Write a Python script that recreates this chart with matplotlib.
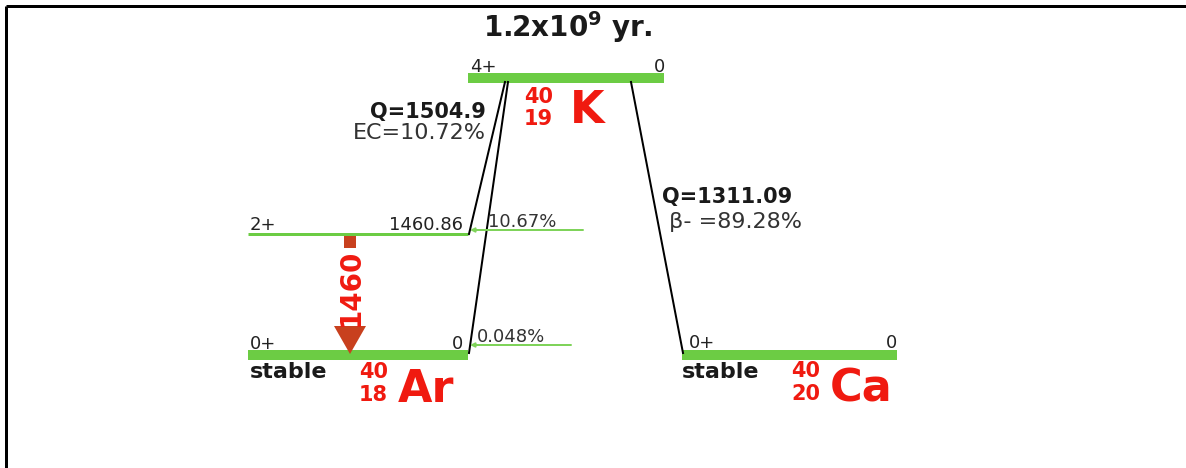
import matplotlib
matplotlib.use("Agg")
import matplotlib.pyplot as plt
from matplotlib.patches import FancyArrow

# ---------------- data ----------------
parent_symbol = "K"
parent_A, parent_Z = 40, 19
parent_spin = "4+"
parent_energy = "0"
half_life_mantissa = "1.2"
half_life_exp = "9"

ar_symbol, ar_A, ar_Z = "Ar", 40, 18
ar_spins = ["0+", "2+"]
ar_energies = [0.0, 1460.86]
ar_energy_labels = ["0", "1460.86"]
ec_branches = ["0.048%", "10.67%"]
q_ec = "1504.9"
ec_total = "10.72%"
gamma_energy = "1460"

ca_symbol, ca_A, ca_Z = "Ca", 40, 20
ca_spin = "0+"
ca_energy_label = "0"
q_beta = "1311.09"
beta_total = "89.28%"

# ---------------- style ----------------
GREEN = "#6ccc44"
GREEN_L = "#7fd35a"
RED = "#f01a10"
GAMMA = "#c8401e"
FONT = "DejaVu Sans"
plt.rcParams["font.family"] = [FONT]
plt.rcParams["mathtext.fontset"] = "dejavusans"

W, H = 1186, 468
fig = plt.figure(figsize=(W / 100, H / 100), dpi=100)
ax = fig.add_axes([0, 0, 1, 1])
ax.set_xlim(0, W)
ax.set_ylim(H, 0)
ax.axis("off")

PX = 72 / 100  # points per pixel

# border (top and left)
ax.plot([6, W], [6, 6], color="black", lw=3 * PX, solid_capstyle="butt")
ax.plot([6, 6], [6, H], color="black", lw=3 * PX, solid_capstyle="butt")

# energy -> y for argon levels
y_ar0, y_ar_top = 355, 234
def ar_y(e):
    return y_ar0 - e * (y_ar0 - y_ar_top) / ar_energies[1]

# ---- parent level ----
yK = 78
ax.plot([468, 664], [yK, yK], color=GREEN, lw=10 * PX, solid_capstyle="butt")
ax.text(568, 37, r"$\mathbf{%s x10^{%s}\ yr.}$" % (half_life_mantissa, half_life_exp),
        ha="center", va="baseline", fontsize=20, color="#1a1a1a")
ax.text(470, 72, parent_spin, ha="left", va="baseline", fontsize=13, color="#222")
ax.text(665, 72, parent_energy, ha="right", va="baseline", fontsize=13, color="#222")
ax.text(553, 103, str(parent_A), ha="right", va="baseline", fontsize=15,
        fontweight="bold", color=RED)
ax.text(553, 125, str(parent_Z), ha="right", va="baseline", fontsize=15,
        fontweight="bold", color=RED)
ax.text(570, 123, parent_symbol, ha="left", va="baseline", fontsize=32,
        fontweight="bold", color=RED)

# ---- argon levels ----
x_ar0, x_ar1 = 248, 468
for spin, e, elab, br in zip(ar_spins, ar_energies, ar_energy_labels, ec_branches):
    y = ar_y(e)
    thick = 10 if e == 0 else 3
    ax.plot([x_ar0, x_ar1], [y, y], color=GREEN, lw=thick * PX, solid_capstyle="butt")
    ax.text(x_ar0 + 2, y - 4 - (2 if e == 0 else 0), spin, ha="left", va="baseline",
            fontsize=13, color="#222")
    ax.text(x_ar1 - 5, y - 4 - (2 if e == 0 else 0), elab, ha="right", va="baseline",
            fontsize=13, color="#222")
    # branch extension line with small arrowhead
    yb = y - (4 if e > 0 else 10)
    x_end = 583 if e > 0 else 571
    ax.annotate("", xy=(470, yb), xytext=(x_end, yb),
                arrowprops=dict(arrowstyle="-|>", color=GREEN_L, lw=2 * PX,
                                mutation_scale=6, shrinkA=0, shrinkB=0))
    ax.text(477 if e == 0 else 488, yb - 3, br, ha="left", va="baseline",
            fontsize=13, color="#333")

ax.text(x_ar0 + 2, 378, "stable", ha="left", va="baseline", fontsize=16,
        fontweight="bold", color="#1a1a1a")
ax.text(388, 378, str(ar_A), ha="right", va="baseline", fontsize=15,
        fontweight="bold", color=RED)
ax.text(388, 401, str(ar_Z), ha="right", va="baseline", fontsize=15,
        fontweight="bold", color=RED)
ax.text(398, 402, ar_symbol, ha="left", va="baseline", fontsize=32,
        fontweight="bold", color=RED)

# EC transitions
ax.plot([505, 469], [82, ar_y(ar_energies[1])], color="black", lw=2 * PX)
ax.plot([508, 469], [82, ar_y(ar_energies[0]) - 2], color="black", lw=2 * PX)
ax.text(486, 118, "Q=" + q_ec, ha="right", va="baseline", fontsize=15,
        fontweight="bold", color="#1a1a1a")
ax.text(486, 139, "EC=" + ec_total, ha="right", va="baseline", fontsize=16,
        color="#333")

# gamma arrow
xg = 350
yg0, yg1 = ar_y(ar_energies[1]) + 2, ar_y(0) - 1
ax.add_patch(FancyArrow(xg, yg0, 0, yg1 - yg0, width=12, head_width=32,
                        head_length=28, length_includes_head=True,
                        color=GAMMA, lw=0, zorder=3))
ax.text(xg + 1, 287, gamma_energy, rotation=90, ha="center", va="center",
        fontsize=20, fontweight="bold", color=RED, zorder=4,
        bbox=dict(facecolor="white", edgecolor="none", pad=0.3))

# ---- calcium ----
yCa = 355
ax.plot([682, 897], [yCa, yCa], color=GREEN, lw=10 * PX, solid_capstyle="butt")
ax.text(689, 348, ca_spin, ha="left", va="baseline", fontsize=13, color="#222")
ax.text(897, 348, ca_energy_label, ha="right", va="baseline", fontsize=13, color="#222")
ax.text(682, 378, "stable", ha="left", va="baseline", fontsize=16,
        fontweight="bold", color="#1a1a1a")
ax.text(820, 377, str(ca_A), ha="right", va="baseline", fontsize=15,
        fontweight="bold", color=RED)
ax.text(820, 400, str(ca_Z), ha="right", va="baseline", fontsize=15,
        fontweight="bold", color=RED)
ax.text(830, 401, ca_symbol, ha="left", va="baseline", fontsize=32,
        fontweight="bold", color=RED)

# beta- transition
ax.plot([631, 683], [82, yCa - 2], color="black", lw=2 * PX)
ax.text(662, 203, "Q=" + q_beta, ha="left", va="baseline", fontsize=15,
        fontweight="bold", color="#1a1a1a")
ax.text(669, 228, "\u03b2- =" + beta_total, ha="left", va="baseline", fontsize=16,
        color="#333")

fig.savefig("out.png", dpi=100)
